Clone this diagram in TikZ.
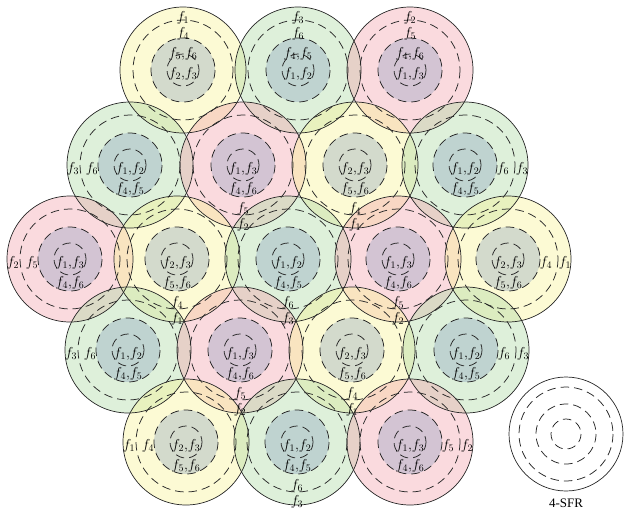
\documentclass[tikz,border=0pt]{standalone}
\usepackage{fontspec}
\setmainfont{Liberation Serif}
\definecolor{cy}{RGB}{247,242,148}
\definecolor{cg}{RGB}{173,218,163}
\definecolor{cr}{RGB}{243,163,173}
\definecolor{cd}{RGB}{120,145,185}
\def\labcyA{$f_2{,}f_3$}\def\labcyB{$f_5{,}f_6$}\def\labcyC{$f_4$}\def\labcyD{$f_1$}
\def\labcgA{$f_1{,}f_2$}\def\labcgB{$f_4{,}f_5$}\def\labcgC{$f_6$}\def\labcgD{$f_3$}
\def\labcrA{$f_1{,}f_3$}\def\labcrB{$f_4{,}f_6$}\def\labcrC{$f_5$}\def\labcrD{$f_2$}
\begin{document}
\begin{tikzpicture}[x=1pt,y=-1pt,
  cellline/.style={draw=black!85, circle, line width=0.7pt, minimum size=126pt, inner sep=0pt},
  dsh/.style={draw=black!85, dash pattern=on 8.5pt off 5pt, line width=0.75pt},
  lab/.style={font=\fontsize{14.5}{16}\selectfont, inner sep=0pt}]
\useasboundingbox (0,0) rectangle (630,515);
\def\cells{183/70/cy/0/-1/-1/c1, 298/70/cg/0/-1/-1/c2, 410/70/cr/0/-1/-1/c3,
  130/165/cg/-1/0/1/c4, 243/165/cr/0/1/1/c5, 355/165/cy/0/1/1/c6, 465/165/cg/1/0/1/c7,
  70/259/cr/-1/0/1/c8, 177/259/cy/0/1/1/c9, 288/259/cg/0/1/1/c10, 398/259/cr/0/1/1/c11, 508/259/cy/1/0/1/c12,
  128/350/cg/-1/0/1/c13, 240/350/cr/0/1/1/c14, 352/350/cy/0/1/1/c15, 466/350/cg/1/0/1/c16,
  186/442/cy/-1/0/1/c17, 297/442/cg/0/1/1/c18, 410/442/cr/1/0/1/c19}
% fills
\foreach \x/\y/\c/\dx/\dy/\s/\n in \cells {
  \fill[\c, fill opacity=0.4] (\x,\y) circle (63);
}
\foreach \x/\y/\c/\dx/\dy/\s/\n in \cells {
  \fill[cd, fill opacity=0.3] (\x,\y) circle (32);
}
% outlines
\foreach \x/\y/\c/\dx/\dy/\s/\n in \cells {
  \node[cellline] (\n) at (\x,\y) {};
  \draw[dsh] (\n.center) circle (50);
  \draw[dsh] (\n.center) circle (32);
  \draw[dsh] (\n.center) circle (16);
}
% labels
\foreach \x/\y/\c/\dx/\dy/\s/\n in \cells {
  \node[lab] (\n-a) at (\x,{\y+4}) {\csname lab\c A\endcsname};
  \node[lab] (\n-b) at (\x,{\y+4+\s*20}) {\csname lab\c B\endcsname};
  \node[lab] (\n-m) at ({\x+\dx*38},{\y+4+\dy*40}) {\csname lab\c C\endcsname};
  \node[lab] (\n-o) at ({\x+\dx*57},{\y+4+\dy*56}) {\csname lab\c D\endcsname};
}
% legend
\node[draw=black!85, circle, line width=0.7pt, minimum size=114pt, inner sep=0pt] (leg) at (566,434) {};
\draw[dsh] (leg.center) circle (47);
\draw[dsh] (leg.center) circle (30);
\draw[dsh] (leg.center) circle (15);
\node[font=\fontsize{13}{15}\selectfont, inner sep=0pt] (sfr) at (566,503) {4-SFR};
\end{tikzpicture}
\end{document}
